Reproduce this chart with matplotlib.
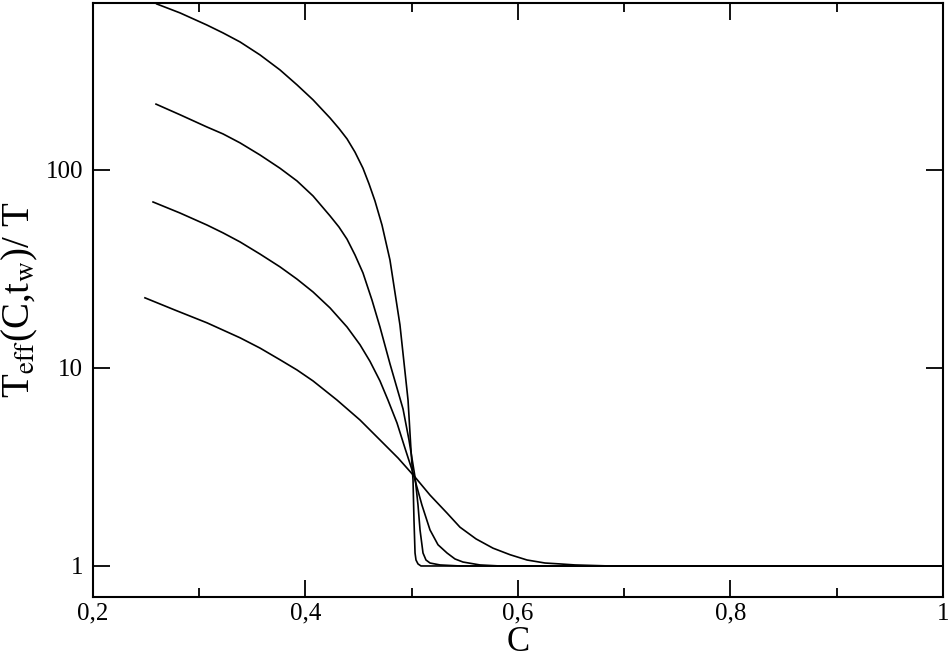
import numpy as np
import matplotlib
matplotlib.use('Agg')
import matplotlib.pyplot as plt

plt.rcParams['font.family'] = ['Liberation Serif', 'DejaVu Serif']
plt.rcParams['mathtext.fontset'] = 'stix'

# values (C, Teff/T), one list pair per curve
c_a = [0.2600, 0.2819, 0.3070, 0.3224, 0.3384, 0.3572, 0.3760, 0.3920, 0.4071, 0.4231,
       0.4315, 0.4391, 0.4466, 0.4541, 0.4598, 0.4654, 0.4720, 0.4795, 0.4889, 0.4965,
       0.4993, 0.5012, 0.5021, 0.5031, 0.5040, 0.5059, 0.5087, 1.0]
t_a = [689, 621, 540, 492, 443, 381, 320, 269, 226, 183,
       162, 143.5, 123, 102, 85.0, 69.7, 52.7, 35.1, 16.5, 6.89,
       3.85, 2.72, 1.71, 1.163, 1.072, 1.024, 1.0, 1.0]

c_b = [0.2593, 0.2819, 0.3070, 0.3224, 0.3384, 0.3572, 0.3760, 0.3920, 0.4071, 0.4231,
       0.4315, 0.4391, 0.4466, 0.4541, 0.4626, 0.4701, 0.4795, 0.4861, 0.4918, 0.4974,
       0.5031, 0.5059, 0.5078, 0.5106, 0.5134, 0.5172, 0.5266, 0.5454, 1.0]
t_b = [215, 190, 165, 152, 137, 119, 102, 88.0, 73.9, 58.6,
       51.5, 44.7, 37.2, 30.2, 22.0, 16.1, 10.5, 7.92, 6.21, 4.33,
       2.81, 2.03, 1.52, 1.163, 1.072, 1.035, 1.012, 1.0, 1.0]

c_c = [0.2565, 0.2819, 0.3073, 0.3224, 0.3384, 0.3572, 0.3760, 0.3920, 0.4071, 0.4231,
       0.4391, 0.4513, 0.4607, 0.4701, 0.4776, 0.4861, 0.4936, 0.5012, 0.5096, 0.5172,
       0.5247, 0.5332, 0.5407, 0.5482, 0.5642, 0.5831, 1.0]
t_c = [68.9, 60.6, 52.7, 48.1, 43.3, 37.6, 32.4, 28.1, 24.2, 20.1,
       16.1, 13.1, 10.8, 8.60, 6.89, 5.28, 3.94, 2.95, 2.03, 1.52,
       1.28, 1.163, 1.085, 1.047, 1.012, 1.0, 1.0]

c_d = [0.2489, 0.2772, 0.3073, 0.3384, 0.3572, 0.3760, 0.3920, 0.4071, 0.4296, 0.4513,
       0.4701, 0.4871, 0.5031, 0.5172, 0.5332, 0.5454, 0.5605, 0.5765, 0.5925, 0.6085,
       0.6254, 0.6395, 0.6536, 0.6866, 1.0]
t_d = [22.6, 19.6, 16.9, 14.2, 12.6, 11.0, 9.77, 8.60, 6.89, 5.46,
       4.33, 3.51, 2.81, 2.28, 1.85, 1.57, 1.37, 1.23, 1.14, 1.072,
       1.035, 1.024, 1.012, 1.0, 1.0]

x_ticks = [0.2, 0.4, 0.6, 0.8, 1.0]
x_labels = ['0,2', '0,4', '0,6', '0,8', '1']
y_ticks = [1, 10, 100]
y_labels = ['1', '10', '100']

fig = plt.figure(figsize=(9.5, 6.61), dpi=100)
ax = fig.add_axes([0.0979, 0.0968, 0.8947, 0.8987])

for c, t in [(c_a, t_a), (c_b, t_b), (c_c, t_c), (c_d, t_d)]:
    ax.plot(c, t, color='black', lw=1.2)

ax.set_yscale('log')
ax.set_xlim(0.2, 1.0)
ax.set_ylim(0.697, 697)

ax.set_xticks(x_ticks)
ax.set_xticklabels(x_labels)
ax.set_xticks(np.arange(0.3, 1.0, 0.2), minor=True)
ax.set_yticks(y_ticks)
ax.set_yticklabels(y_labels)
ax.yaxis.set_minor_locator(matplotlib.ticker.NullLocator())

ax.tick_params(which='both', direction='in', top=True, right=True,
               labelsize=18, width=1.3)
ax.tick_params(axis='x', pad=4)
ax.tick_params(axis='y', pad=7)
ax.tick_params(which='major', length=12.5)
ax.tick_params(which='minor', length=6.5)

for s in ax.spines.values():
    s.set_linewidth(1.5)

ax.set_xlabel('C', fontsize=25, labelpad=1)
ax.set_ylabel(r'T$_{\mathrm{eff}}$(C,t$_{\mathrm{w}}$)/ T', fontsize=28, labelpad=4)

fig.savefig('out.png', dpi=100)
